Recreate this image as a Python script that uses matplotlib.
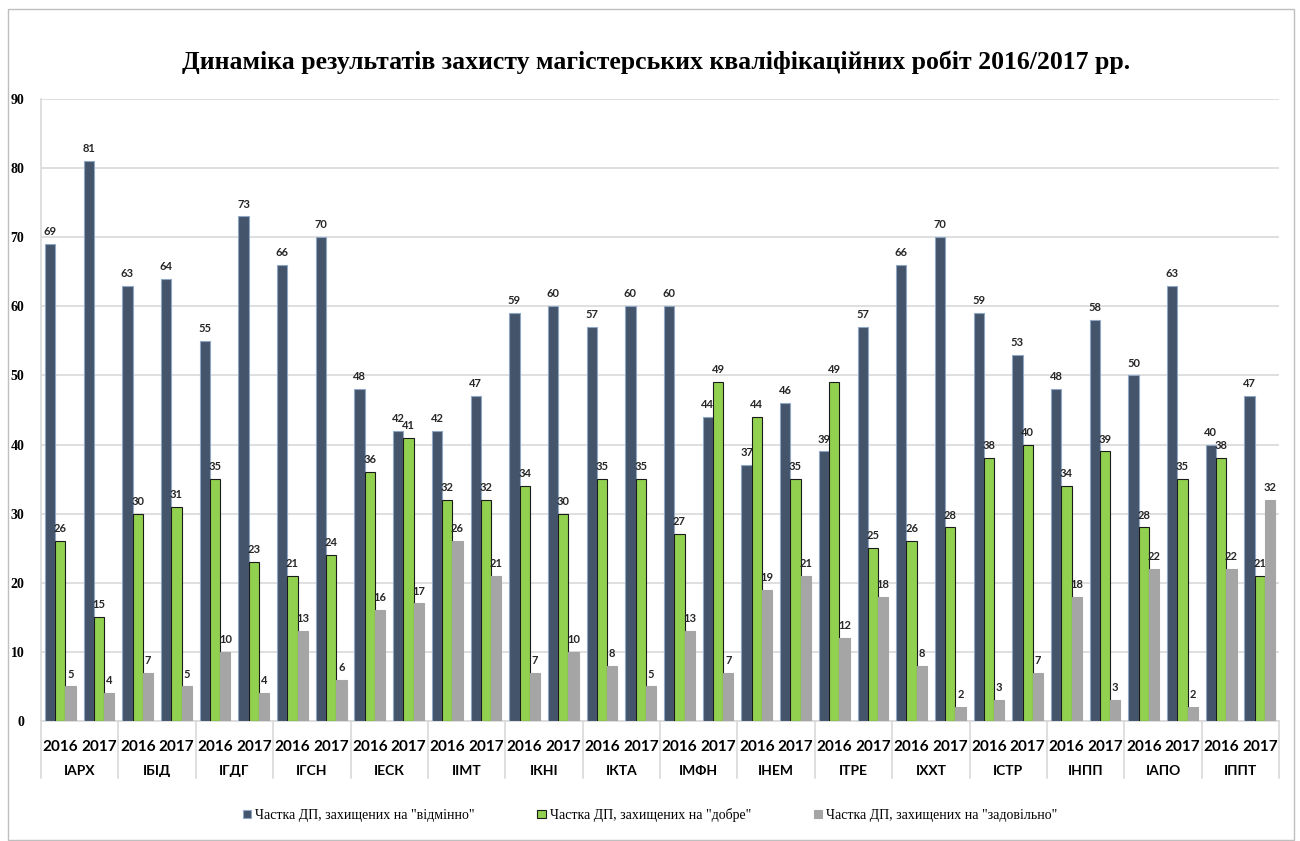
import matplotlib.pyplot as plt
import numpy as np
from matplotlib.patches import Rectangle
from matplotlib.lines import Line2D

plt.rcParams.update({'font.size': 10, "font.weight": "bold"})

institutes = ["ІАРХ", "ІБІД", "ІГДГ", "ІГСН", "ІЕСК", "ІІМТ", "ІКНІ", "ІКТА",
              "ІМФН", "ІНЕМ", "ІТРЕ", "ІХХТ", "ІСТР", "ІНПП", "ІАПО", "ІППТ"]
years = ["2016", "2017"]

excellent = [69, 81, 63, 64, 55, 73, 66, 70, 48, 42, 42, 47, 59, 60, 57, 60,
             60, 44, 37, 46, 39, 57, 66, 70, 59, 53, 48, 58, 50, 63, 40, 47]
good = [26, 15, 30, 31, 35, 23, 21, 24, 36, 41, 32, 32, 34, 30, 35, 35,
        27, 49, 44, 35, 49, 25, 26, 28, 38, 40, 34, 39, 28, 35, 38, 21]
satisf = [5, 4, 7, 5, 10, 4, 13, 6, 16, 17, 26, 21, 7, 10, 8, 5,
          13, 7, 19, 21, 12, 18, 8, 2, 3, 7, 18, 3, 22, 2, 22, 32]

series_labels = ['Частка ДП, захищених на "відмінно"',
                 'Частка ДП, захищених на "добре"',
                 'Частка ДП, захищених на "задовільно"']
colors = ['#44546A', '#92D050', '#A5A5A5']
edges = ['#8FA6C4', '#1A1A1A', '#A5A5A5']

sans = ['Lato', 'DejaVu Sans']
serif = ['Liberation Serif', 'DejaVu Serif']

fig = plt.figure(figsize=(13, 8.41), dpi=100)
ax = fig.add_axes([0.0315, 0.1427, 0.9525, 0.7396])

# outer chart border
fig.patches.append(Rectangle((8 / 1300, 1 - 840 / 841), 1286 / 1300, 831 / 841,
                             transform=fig.transFigure, fill=False,
                             edgecolor='#BFBFBF', linewidth=1))

n = len(excellent)
x = np.arange(n)
w = 0.265
for k, vals in enumerate([excellent, good, satisf]):
    bars = ax.bar(x + (k - 1) * w, vals, width=w, color=colors[k],
                  edgecolor=edges[k], linewidth=0.8, zorder=3,
                  label=series_labels[k])
    for xi, v in zip(x + (k - 1) * w, vals):
        ax.text(xi, v + 1.0, str(v), ha='center', va='bottom',
                fontsize=8, fontweight='bold', family=sans, color='#262626')

ax.set_xlim(-0.5, n - 0.5)
ax.set_ylim(0, 90)
ax.set_yticks(np.arange(0, 91, 10))
ax.set_yticklabels([str(v) for v in range(0, 91, 10)], family=serif,
                   fontsize=10, fontweight='bold')
ax.tick_params(axis='y', length=0, pad=12)
ax.grid(axis='y', color='#D9D9D9', linewidth=1.2, zorder=0)
for s in ['top', 'right']:
    ax.spines[s].set_visible(False)
ax.spines['left'].set_color('#D9D9D9')
ax.spines['bottom'].set_color('#D9D9D9')
ax.spines['left'].set_linewidth(1.2)
ax.spines['bottom'].set_linewidth(1.2)

ax.set_xticks(x)
ax.set_xticklabels(years * len(institutes), family=sans, fontsize=11,
                   fontweight='bold')
ax.tick_params(axis='x', length=0, pad=14)

trans = ax.get_xaxis_transform()
for g, name in enumerate(institutes):
    ax.text(2 * g + 0.5, -0.08, name, transform=trans, ha='center',
            va='center', family=sans, fontsize=10, fontweight='bold')
for b in range(len(institutes) + 1):
    ax.add_line(Line2D([2 * b - 0.5, 2 * b - 0.5], [0, -0.092], transform=trans,
                       color='#D9D9D9', linewidth=1.2, clip_on=False))

fig.suptitle("Динаміка результатів захисту магістерських кваліфікаційних робіт 2016/2017 рр.",
             x=0.505, y=0.94, family=serif, fontsize=18.5, fontweight='bold')

handles, labels = ax.get_legend_handles_labels()
fig.legend(handles, labels, loc='center', bbox_to_anchor=(0.5, 0.031), ncol=3,
           frameon=False, prop={'family': serif, 'size': 10, 'weight': 'normal'},
           handlelength=0.6, handleheight=0.6, handletextpad=0.3,
           columnspacing=4.5)

plt.savefig("out.png", dpi=100)
